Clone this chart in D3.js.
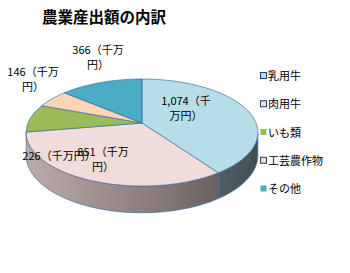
<!DOCTYPE html>
<html>
<head>
<meta charset="utf-8">
<style>
    body { margin: 0; background: #fff; }
    svg { display: block; font-family: "Noto Sans CJK JP", "Noto Sans", sans-serif; }
</style>
</head>
<body>
<svg width="350" height="273"></svg>
<script src="https://d3js.org/d3.v7.min.js"></script>
<script>
    // chart data
    let categories = ["乳用牛", "肉用牛", "いも類", "工芸農作物", "その他"];
    let values = [1074, 851, 226, 146, 366];
    let valueLabels = ["1,074", "851", "226", "146", "366"];
    let unit = "（千万円）";
    let colors = ["#b7dde8", "#f2dcdb", "#9bbb59", "#fcd5b5", "#4bacc6"];
    let title = "農業産出額の内訳";

    let svg = d3.select("svg");

    // pie geometry (perspective ellipse)
    let cx = 142, cy = 123;
    let rx = 114, a = 51.8, b = 0.178, depth = 22;

    function proj(theta, r, dz) {
        let u = Math.sin(theta) * r;
        let v = -Math.cos(theta) * r;
        let s = 1 / (1 - b * v);
        return [cx + rx * u * s, cy + a * v * s + (dz || 0) * s];
    }

    let pie = d3.pie().sort(null).value(d => d.value);
    let slices = pie(categories.map((c, i) => ({ name: c, value: values[i], color: colors[i], label: valueLabels[i] })));

    let defs = svg.append("defs");
    let step = Math.PI / 180;

    // side walls: only the front part of the rim is visible
    let thR = Math.acos(-b), thL = 2 * Math.PI - Math.acos(-b);
    slices.forEach((d, i) => {
        let t0 = Math.max(d.startAngle, thR), t1 = Math.min(d.endAngle, thL);
        if (t1 <= t0) return;
        let g = defs.append("linearGradient")
            .attr("id", "side" + i)
            .attr("gradientUnits", "userSpaceOnUse")
            .attr("x1", cx - rx).attr("x2", cx + rx).attr("y1", 0).attr("y2", 0);
        g.append("stop").attr("offset", 0).attr("stop-color", d3.color(d.data.color).darker(0.7));
        g.append("stop").attr("offset", 0.55).attr("stop-color", d3.color(d.data.color).darker(1.6));
        g.append("stop").attr("offset", 1).attr("stop-color", d3.color(d.data.color).darker(2.9));
        let top = [], bottom = [];
        for (let t = t0; t < t1; t += step) {
            top.push(proj(t, 1));
            bottom.push(proj(t, 1, depth));
        }
        top.push(proj(t1, 1));
        bottom.push(proj(t1, 1, depth));
        let pts = top.concat(bottom.reverse());
        svg.append("path")
            .attr("d", d3.line()(pts) + "Z")
            .attr("fill", "url(#side" + i + ")")
            .attr("stroke", "#3f6c9e")
            .attr("stroke-width", 0.7);
    });

    // top faces
    slices.forEach(d => {
        let pts = [proj(0, 0)];
        for (let t = d.startAngle; t < d.endAngle; t += step) pts.push(proj(t, 1));
        pts.push(proj(d.endAngle, 1));
        svg.append("path")
            .attr("d", d3.line()(pts) + "Z")
            .attr("fill", d.data.color)
            .attr("stroke", "#3f6c9e")
            .attr("stroke-width", 0.7)
            .attr("stroke-linejoin", "round");
    });

    // data labels (Excel-style placement, line wrapped)
    let labelLayout = {
        "乳用牛": { x: 186, y: 105, lines: 2 },
        "肉用牛": { x: 103, y: 156, lines: 2 },
        "いも類": { x: 59, y: 160, lines: 1 },
        "工芸農作物": { x: 33, y: 76, lines: 2 },
        "その他": { x: 98, y: 54, lines: 2 }
    };
    let order = [0, 1, 2, 3, 4];
    order.forEach(i => {
        let d = slices[i];
        let L = labelLayout[d.data.name];
        let full = d.data.label + unit;
        let lines;
        if (L.lines === 1) lines = [full];
        else if (d.data.label.length > 3) lines = [d.data.label + "（千", "万円）"];
        else lines = [d.data.label + "（千万", "円）"];
        let t = svg.append("text")
            .attr("text-anchor", "middle")
            .attr("font-size", 11)
            .attr("fill", "#000");
        lines.forEach((ln, k) => {
            t.append("tspan")
                .attr("x", L.x)
                .attr("y", L.y + k * 15)
                .text(ln);
        });
    });

    // title
    svg.append("text")
        .attr("x", 104)
        .attr("y", 23)
        .attr("text-anchor", "middle")
        .attr("font-size", 15.5)
        .attr("font-weight", "bold")
        .attr("fill", "#000")
        .text(title);

    // legend
    let ly = d3.scalePoint().domain(categories).range([77, 190]);
    let legend = svg.append("g");
    categories.forEach((c, i) => {
        legend.append("rect")
            .attr("x", 260.5)
            .attr("y", ly(c) - 4.5)
            .attr("width", 6)
            .attr("height", 6)
            .attr("fill", colors[i])
            .attr("stroke", (i === 2 || i === 4) ? "none" : "#1f3f6e")
            .attr("stroke-width", 1);
        legend.append("text")
            .attr("x", 268)
            .attr("y", ly(c) + 3)
            .attr("font-size", 11)
            .attr("fill", "#000")
            .text(c);
    });
</script>
</body>
</html>
